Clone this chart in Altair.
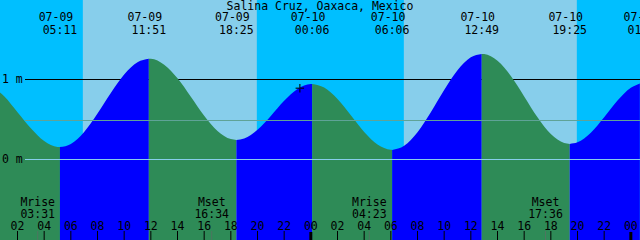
import altair as alt
import pandas as pd

# ---- data (time = hours since 07-09 00:00, height in metres) ----
tide_t = [0.675, 1, 2, 3, 4, 5, 5.183, 6, 7, 8, 9, 10, 11, 11.85, 12, 13, 14, 15, 16, 17, 18,
          18.417, 19, 20, 21, 22, 23, 24, 24.1, 25, 26, 27, 28, 29, 30, 30.1, 31, 32, 33, 34,
          35, 36, 36.817, 37, 38, 39, 40, 41, 42, 43, 43.417, 44, 45, 46, 47, 48, 48.675]
tide_h = [0.84, 0.79, 0.59, 0.39, 0.23, 0.157, 0.155, 0.195, 0.345, 0.574, 0.832, 1.063, 1.216,
          1.26, 1.259, 1.185, 1.015, 0.785, 0.548, 0.357, 0.255, 0.245, 0.263, 0.371, 0.545,
          0.734, 0.882, 0.944, 0.945, 0.900, 0.757, 0.554, 0.345, 0.187, 0.121, 0.12, 0.172,
          0.342, 0.592, 0.870, 1.116, 1.277, 1.32, 1.318, 1.233, 1.043, 0.789, 0.528, 0.318,
          0.206, 0.195, 0.215, 0.335, 0.528, 0.736, 0.896, 0.951]

extreme_t = [5.183, 11.85, 18.417, 24.1, 30.1, 36.817, 43.417]

event_t = [5.183, 11.85, 18.417, 24.1, 30.1, 36.817, 43.417, 49.05]
event_date = ["07-09", "07-09", "07-09", "07-10", "07-10", "07-10", "07-10", "07-11"]
event_time = ["05:11", "11:51", "18:25", "00:06", "06:06", "12:49", "19:25", "01:03"]

sunrise_t = [6.9, 30.975]
sunset_t = [19.95, 43.95]

moon_t = [3.517, 16.567, 28.383, 41.6]
moon_name = ["Mrise", "Mset", "Mrise", "Mset"]
moon_time = ["03:31", "16:34", "04:23", "17:36"]

tick_t = [2, 4, 6, 8, 10, 12, 14, 16, 18, 20, 22, 24, 26, 28, 30, 32, 34, 36, 38, 40, 42, 44, 46, 48]
tick_label = ["02", "04", "06", "08", "10", "12", "14", "16", "18", "20", "22", "00",
              "02", "04", "06", "08", "10", "12", "14", "16", "18", "20", "22", "00"]

level_h = [1.0, 0.4875, 0.0]
level_label = ["1 m", "", "0 m"]

now_t = [23.175]
now_h = [0.89]

title = "Salina Cruz, Oaxaca, Mexico"

# ---- build tables ----
rows = []
bounds = [tide_t[0]] + extreme_t + [tide_t[-1]]
for i in range(len(bounds) - 1):
    a, b = bounds[i], bounds[i + 1]
    d = "falling" if i % 2 == 0 else "rising"
    for t, h in zip(tide_t, tide_h):
        if a - 1e-9 <= t <= b + 1e-9:
            rows.append({"seg": i, "t": t, "h": h, "dir": d})
tide = pd.DataFrame(rows)

events = pd.DataFrame({"t": event_t, "date": event_date, "time": event_time})
days = pd.DataFrame({"rise": sunrise_t, "set": sunset_t})
moon = pd.DataFrame({"t": moon_t, "name": moon_name, "time": moon_time})
ticks = pd.DataFrame({"t": tick_t, "label": tick_label})
ticks["midnight"] = ticks["label"] == "00"
levels = pd.DataFrame({"h": level_h, "label": level_label})
now = pd.DataFrame({"t": now_t, "h": now_h})

FONT = "DejaVu Sans Mono"
FS = 11.5

xs = alt.Scale(domain=[0.6875, 48.6875], nice=False, zero=False)
ys = alt.Scale(domain=[-1.00625, 1.99375], nice=False, zero=False)

X = lambda f: alt.X(f, type="quantitative", scale=xs, axis=None)
Y = lambda f: alt.Y(f, type="quantitative", scale=ys, axis=None)

day_rects = alt.Chart(days).mark_rect(color="#87CEEB").encode(
    x=X("rise"), x2="set", y=alt.value(0), y2=alt.value(240)
)

one_line = alt.Chart(levels[levels.h == 1.0]).mark_rule(color="black", strokeWidth=1).encode(
    y=Y("h"), x=alt.value(25), x2=alt.value(640)
)

area = alt.Chart(tide).mark_area(interpolate="monotone", clip=True).encode(
    x=X("t"),
    y=alt.Y("h:Q", scale=ys, axis=None, stack=None),
    y2=alt.value(240),
    detail="seg:N",
    color=alt.Color("dir:N", scale=alt.Scale(domain=["rising", "falling"],
                                             range=["#0000FF", "#2E8B57"]), legend=None),
)

mid_line = alt.Chart(levels[levels.h == 0.4875]).mark_rule(color="#5FA397", strokeWidth=1).encode(
    y=Y("h"), x=alt.value(25), x2=alt.value(640)
)
zero_line = alt.Chart(levels[levels.h == 0.0]).mark_rule(color="#87CEEB", strokeWidth=1).encode(
    y=Y("h"), x=alt.value(25), x2=alt.value(640)
)

level_text = alt.Chart(levels[levels.label != ""]).mark_text(
    font=FONT, fontSize=FS, align="left", baseline="middle", color="black"
).encode(y=Y("h"), x=alt.value(2), text="label:N")

date_text = alt.Chart(events).mark_text(
    font=FONT, fontSize=FS, align="center", baseline="alphabetic", dx=-4, color="black"
).encode(x=X("t"), y=alt.value(21), text="date:N")
time_text = alt.Chart(events).mark_text(
    font=FONT, fontSize=FS, align="center", baseline="alphabetic", color="black"
).encode(x=X("t"), y=alt.value(34), text="time:N")

title_text = alt.Chart(pd.DataFrame({"s": [title]})).mark_text(
    font=FONT, fontSize=FS, align="center", baseline="alphabetic", color="black"
).encode(x=alt.value(320), y=alt.value(10), text="s:N")

moon_name_text = alt.Chart(moon).mark_text(
    font=FONT, fontSize=FS, align="center", baseline="alphabetic", color="black"
).encode(x=X("t"), y=alt.value(206), text="name:N")
moon_time_text = alt.Chart(moon).mark_text(
    font=FONT, fontSize=FS, align="center", baseline="alphabetic", color="black"
).encode(x=X("t"), y=alt.value(218), text="time:N")
moon_ticks = alt.Chart(moon).mark_rule(color="#4F7560", strokeWidth=1).encode(
    x=X("t"), y=alt.value(231), y2=alt.value(240)
)

hour_ticks = alt.Chart(ticks[~ticks.midnight]).mark_rule(color="black", strokeWidth=1).encode(
    x=X("t"), y=alt.value(231), y2=alt.value(240)
)
midnight_ticks = alt.Chart(ticks[ticks.midnight]).mark_rule(color="black", strokeWidth=3).encode(
    x=X("t"), y=alt.value(232), y2=alt.value(240)
)
tick_text = alt.Chart(ticks).mark_text(
    font=FONT, fontSize=FS, align="center", baseline="alphabetic", color="black"
).encode(x=X("t"), y=alt.value(230), text="label:N")

cross = alt.Chart(now).mark_point(
    shape="M-1,0L1,0M0,-1L0,1", size=72, color="black", strokeWidth=1.5, filled=False
).encode(x=X("t"), y=Y("h"))

chart = alt.layer(
    day_rects, one_line, area, mid_line, zero_line, level_text,
    title_text, date_text, time_text, moon_name_text, moon_time_text,
    moon_ticks, hour_ticks, midnight_ticks, tick_text, cross
).properties(
    width=640, height=240, background="#00BFFF", padding=0,
    autosize=alt.AutoSizeParams(type="none")
).configure_view(stroke=None)

chart.save("out.html", embed_options={"renderer": "svg", "actions": False})
